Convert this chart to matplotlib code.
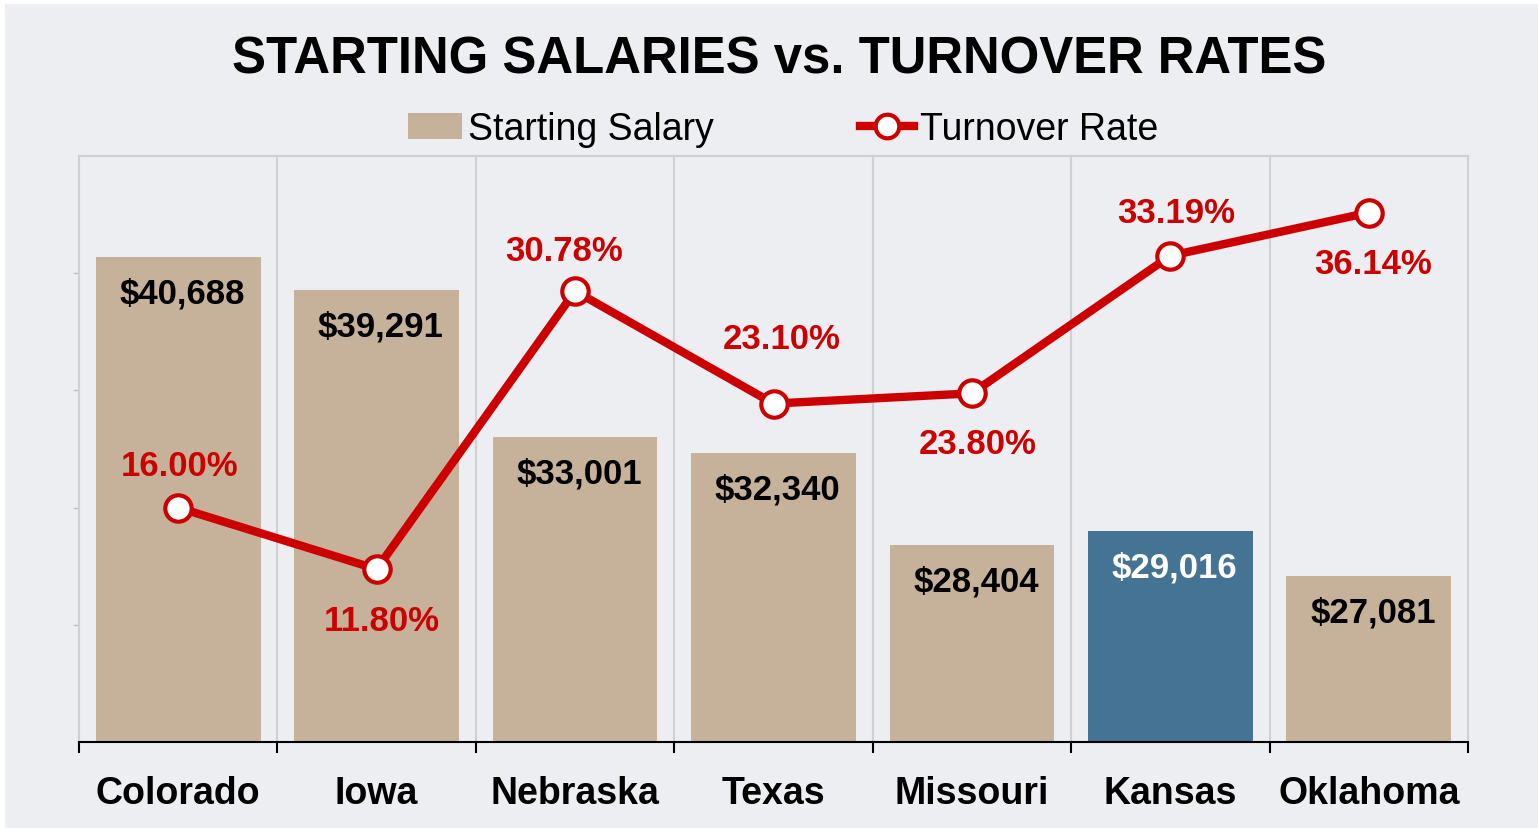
import numpy as np
import matplotlib
matplotlib.use("Agg")
import matplotlib.pyplot as plt
from matplotlib.patches import Patch, Rectangle
from matplotlib.lines import Line2D

plt.rcParams['font.family'] = ['Liberation Sans', 'DejaVu Sans']

states = ['Colorado', 'Iowa', 'Nebraska', 'Texas', 'Missouri', 'Kansas', 'Oklahoma']
salary = [40688, 39291, 33001, 32340, 28404, 29016, 27081]
turnover = [16.00, 11.80, 30.78, 23.10, 23.80, 33.19, 36.14]
highlight = 'Kansas'

# label offsets for the turnover labels (points)
pct_offsets = [(1, 30), (4, -37), (-8, 29), (6, 47), (4, -36), (4, 31), (3, -37)]

tan = '#C6B29A'
blue = '#457394'
red = '#CC0000'
bg = '#EDEEF2'
grid_c = '#D0D0D0'

fig = plt.figure(figsize=(15.38, 8.29), dpi=100)
fig.patch.set_facecolor('white')
fig.patches.append(Rectangle((5 / 1538, 0), 1, 1 - 5 / 829, transform=fig.transFigure,
                             facecolor=bg, edgecolor='none', zorder=-10))

ax = fig.add_axes([79 / 1538, 1 - 743 / 829, (1468 - 79) / 1538, (743 - 157) / 829])
ax.set_facecolor(bg)
x = np.arange(len(states))
colors = [blue if s == highlight else tan for s in states]
bars = ax.bar(x, salary, width=0.83, color=colors, zorder=2)
ax.set_xlim(-0.5, len(states) - 0.5)
ax.set_ylim(20000, 45000)

for xi in np.arange(0.5, len(states) - 0.5):
    ax.axvline(xi, color=grid_c, lw=1.5, zorder=0)

for s, b, v in zip(states, bars, salary):
    ax.annotate(f'${v:,}', (b.get_x() + b.get_width() / 2, v), xytext=(3, -26),
                textcoords='offset points', ha='center', va='center', fontsize=25,
                fontweight='bold', color='white' if s == highlight else 'black', zorder=3)

ax.set_yticks([25000, 30000, 35000, 40000])
ax.set_yticklabels([])
ax.tick_params(axis='y', length=4, width=1, color='#BFBFBF')
ax.set_xticks(np.arange(-0.5, len(states)))
ax.set_xticklabels([])
ax.tick_params(axis='x', which='major', length=8, width=1.5, color='black')
ax.set_xticks(x, minor=True)
ax.set_xticklabels(states, minor=True, fontsize=27, fontweight='bold')
ax.tick_params(axis='x', which='minor', length=0, pad=23.5)

for side in ['left', 'top', 'right']:
    ax.spines[side].set_color(grid_c)
    ax.spines[side].set_linewidth(1.5)
ax.spines['bottom'].set_color('black')
ax.spines['bottom'].set_linewidth(1.5)

ax2 = ax.twinx()
ax2.set_ylim(0, 40)
ax2.plot(x, turnover, color=red, lw=6, marker='o', ms=19, mfc='white', mec=red, mew=3,
         solid_capstyle='round', zorder=5)
for xi, t, off in zip(x, turnover, pct_offsets):
    ax2.annotate(f'{t:.2f}%', (xi, t), xytext=off, textcoords='offset points',
                 ha='center', va='center', fontsize=25, fontweight='bold', color=red)
ax2.set_yticks([])
for side in ax2.spines:
    ax2.spines[side].set_visible(False)

fig.text(0.5065, 1 - 60 / 829, 'STARTING SALARIES vs. TURNOVER RATES', ha='center',
         va='center', fontsize=36.6, fontweight='bold')

handles = [Patch(facecolor=tan, edgecolor='none'),
           Line2D([], [], color=red, lw=6, marker='o', ms=17, mfc='white', mec=red, mew=3)]
fig.legend(handles, ['Starting Salary', 'Turnover Rate'], loc='center',
           bbox_to_anchor=(783 / 1538, 1 - 130 / 829), ncol=2, frameon=False, fontsize=27,
           handlelength=1.45, handletextpad=0.15, columnspacing=3.9)

fig.savefig('out.png', dpi=100, facecolor=fig.get_facecolor())
